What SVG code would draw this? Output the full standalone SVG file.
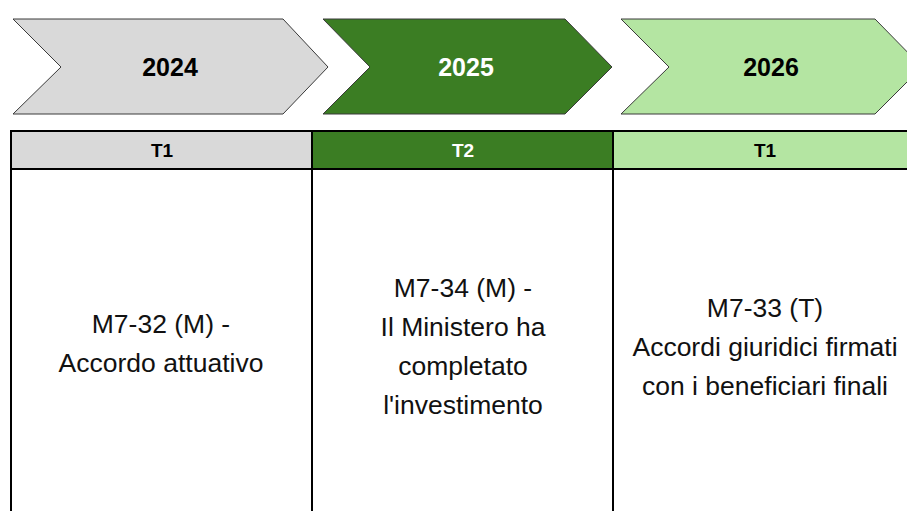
<svg xmlns="http://www.w3.org/2000/svg" width="907" height="511" viewBox="0 0 907 511">
<style>
.chev{stroke:#3a3a3a;stroke-width:1;stroke-linejoin:miter}
.year{font-family:"Liberation Sans",Arial,sans-serif;font-weight:bold;font-size:25px;text-anchor:middle}
.hdr{font-family:"Liberation Sans",Arial,sans-serif;font-weight:bold;font-size:19px;text-anchor:middle}
.body{font-family:"Liberation Sans",Arial,sans-serif;font-size:26.5px;text-anchor:middle;fill:#111}
.grid{stroke:#000;stroke-width:2;fill:none}
</style>
<rect width="907" height="511" fill="#fff"/>
<g id="chevron-2024">
<polygon class="chev" fill="#D9D9D9" points="13,19 283,19 328,67 283,114 13,114 61,67"/>
<text class="year" x="170" y="76" fill="#000">2024</text>
</g>
<g id="chevron-2025">
<polygon class="chev" fill="#3B7D23" points="323,19 565,19 612,67 565,114 323,114 370,67"/>
<text class="year" x="466" y="76" fill="#fff">2025</text>
</g>
<g id="chevron-2026">
<polygon class="chev" fill="#B4E5A2" points="621,19 875,19 922,67 875,114 621,114 669,67"/>
<text class="year" x="771" y="76" fill="#000">2026</text>
</g>
<g id="col-1">
<rect x="11" y="131" width="301" height="38" fill="#D9D9D9"/>
<text class="hdr" x="162" y="157" fill="#000">T1</text>
<text class="body" x="161" y="333">M7-32 (M) -</text>
<text class="body" x="161" y="372">Accordo attuativo</text>
</g>
<g id="col-2">
<rect x="312" y="131" width="301" height="38" fill="#3B7D23"/>
<text class="hdr" x="463" y="157" fill="#fff">T2</text>
<text class="body" x="463" y="297">M7-34 (M) -</text>
<text class="body" x="463" y="336">Il Ministero ha</text>
<text class="body" x="463" y="375">completato</text>
<text class="body" x="463" y="414">l'investimento</text>
</g>
<g id="col-3">
<rect x="613" y="131" width="304" height="38" fill="#B4E5A2"/>
<text class="hdr" x="765" y="157" fill="#000">T1</text>
<text class="body" x="765" y="317">M7-33 (T)</text>
<text class="body" x="765" y="356">Accordi giuridici firmati</text>
<text class="body" x="765" y="395">con i beneficiari finali</text>
</g>
<g id="grid-lines">
<line class="grid" x1="10" y1="131" x2="907" y2="131"/>
<line class="grid" x1="10" y1="169" x2="907" y2="169"/>
<line class="grid" x1="11" y1="130" x2="11" y2="511"/>
<line class="grid" x1="312" y1="130" x2="312" y2="511"/>
<line class="grid" x1="613" y1="130" x2="613" y2="511"/>
</g>
</svg>
